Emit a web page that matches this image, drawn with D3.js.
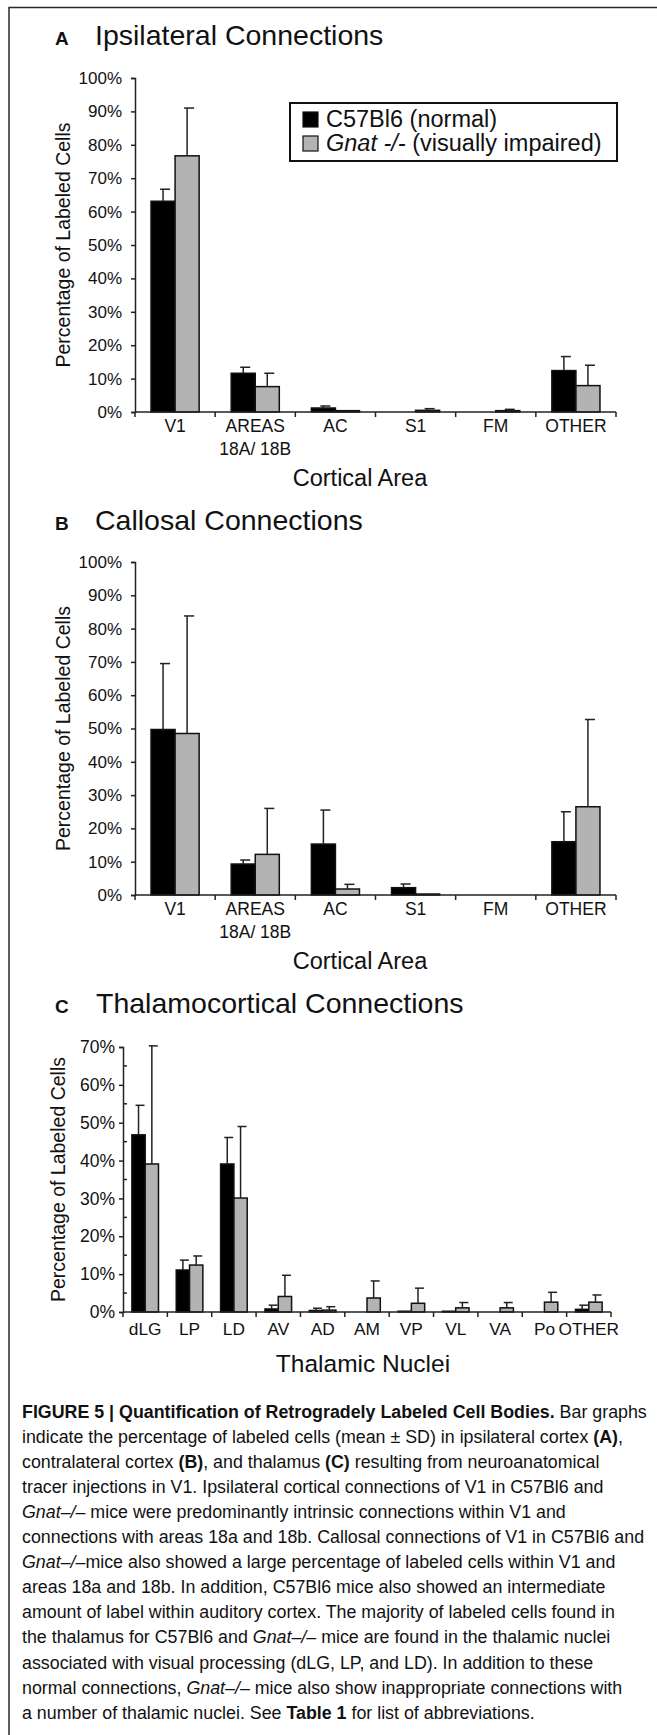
<!DOCTYPE html>
<html><head><meta charset="utf-8">
<script src="https://cdn.jsdelivr.net/npm/d3@7/dist/d3.min.js"></script>
<style>
html,body{margin:0;padding:0;background:#fff;}
svg{display:block;}
text{font-family:"Liberation Sans",Arial,sans-serif;fill:#111;}
</style></head>
<body>
<script>
// ---------- DATA ----------
const corticalAreas = ["V1", "AREAS\n18A/ 18B", "AC", "S1", "FM", "OTHER"];
const corticalTicks = [0,10,20,30,40,50,60,70,80,90,100];

const ipsiNormal   = [63.1, 11.6, 1.2, 0.0, 0.0, 12.4];
const ipsiNormalSD = [3.6, 1.8, 0.6, 0.0, 0.0, 4.2];
const ipsiGnat     = [76.7, 7.6, 0.4, 0.5, 0.4, 7.9];
const ipsiGnatSD   = [14.3, 4.0, 0.0, 0.5, 0.4, 6.1];

const callNormal   = [49.7, 9.3, 15.3, 2.2, 0.0, 16.0];
const callNormalSD = [19.8, 1.2, 10.2, 1.1, 0.0, 9.0];
const callGnat     = [48.5, 12.2, 1.8, 0.3, 0.0, 26.5];
const callGnatSD   = [35.3, 13.8, 1.4, 0.0, 0.0, 26.2];

const thalNuclei   = ["dLG","LP","LD","AV","AD","AM","VP","VL","VA","Po","OTHER"];
const thalTicks    = [0,10,20,30,40,50,60,70];
const thalMinor    = [5,15,25,35,45,55,65];
const thalNormal   = [46.8, 11.1, 39.1, 0.8, 0.4, 0.0, 0.2, 0.2, 0.0, 0.0, 0.7];
const thalNormalSD = [7.8, 2.6, 7.0, 1.0, 0.6, 0.0, 0.0, 0.0, 0.0, 0.0, 1.1];
const thalGnat     = [39.1, 12.4, 30.1, 4.1, 0.5, 3.7, 2.3, 1.1, 1.1, 2.6, 2.6];
const thalGnatSD   = [31.2, 2.4, 18.9, 5.6, 0.9, 4.5, 4.0, 1.4, 1.4, 2.6, 1.9];

const seriesNames = ["C57Bl6 (normal)", "Gnat -/- (visually impaired)"];
const seriesColors = ["#000000", "#b3b3b3"];

const captionLines = [
  [["b","FIGURE 5 | Quantification of Retrogradely Labeled Cell Bodies."],["n"," Bar graphs"]],
  [["n","indicate the percentage of labeled cells (mean \u00b1 SD) in ipsilateral cortex "],["b","(A)"],["n",","]],
  [["n","contralateral cortex "],["b","(B)"],["n",", and thalamus "],["b","(C)"],["n"," resulting from neuroanatomical"]],
  [["n","tracer injections in V1. Ipsilateral cortical connections of V1 in C57Bl6 and"]],
  [["i","Gnat\u2013/\u2013"],["n"," mice were predominantly intrinsic connections within V1 and"]],
  [["n","connections with areas 18a and 18b. Callosal connections of V1 in C57Bl6 and"]],
  [["i","Gnat\u2013/\u2013"],["n","mice also showed a large percentage of labeled cells within V1 and"]],
  [["n","areas 18a and 18b. In addition, C57Bl6 mice also showed an intermediate"]],
  [["n","amount of label within auditory cortex. The majority of labeled cells found in"]],
  [["n","the thalamus for C57Bl6 and "],["i","Gnat\u2013/\u2013"],["n"," mice are found in the thalamic nuclei"]],
  [["n","associated with visual processing (dLG, LP, and LD). In addition to these"]],
  [["n","normal connections, "],["i","Gnat\u2013/\u2013"],["n"," mice also show inappropriate connections with"]],
  [["n","a number of thalamic nuclei. See "],["b","Table 1"],["n"," for list of abbreviations."]]
];

// ---------- DRAW ----------
const W = 657, H = 1735;
const svg = d3.select("body").append("svg").attr("width", W).attr("height", H);

// frame (top + left)
svg.append("path").attr("d", `M9,${H} L9,7.5 L${W},7.5`).attr("fill","none")
   .attr("stroke","#2a2a2a").attr("stroke-width",1.5);

function panel(cfg) {
  const g = svg.append("g");
  // titles
  g.append("text").attr("x", cfg.letterX).attr("y", cfg.titleY).attr("font-size", 19)
    .attr("font-weight","bold").text(cfg.letter);
  g.append("text").attr("x", cfg.titleX).attr("y", cfg.titleY).attr("font-size", 28.5).text(cfg.title);

  const x = d3.scaleBand().domain(cfg.cats).range([cfg.x0, cfg.x1]).padding(0);
  const y = d3.scaleLinear().domain([0, cfg.ymax]).range([cfg.y0, cfg.y1]);
  const bw = x.bandwidth() * 0.3;

  // y axis
  const yAxis = d3.axisLeft(y).tickValues(cfg.ticks).tickFormat(d => d + "%").tickSize(4).tickPadding(cfg.yPad);
  const ya = g.append("g").attr("transform", `translate(${cfg.x0},0)`).call(yAxis);
  ya.select(".domain").attr("stroke","#222").attr("stroke-width",1.5);
  ya.selectAll(".tick line").attr("stroke","#222").attr("stroke-width",1.5);
  ya.selectAll(".tick text").attr("font-size", cfg.yFont).attr("font-family","Liberation Sans, Arial, sans-serif").attr("fill","#111");
  if (cfg.minor) {
    g.append("g").selectAll("line").data(cfg.minor).join("line")
      .attr("x1", cfg.x0).attr("x2", cfg.x0 + 4)
      .attr("y1", d => y(d)).attr("y2", d => y(d))
      .attr("stroke","#222").attr("stroke-width",1.5);
  }

  // series bars
  const series = [
    {vals: cfg.s1, sd: cfg.sd1, color: seriesColors[0], off: -bw},
    {vals: cfg.s2, sd: cfg.sd2, color: seriesColors[1], off: 0}
  ];
  series.forEach(s => {
    const data = cfg.cats.map((c, i) => ({c, v: s.vals[i], e: s.sd[i]}));
    const cx = d => x(d.c) + x.bandwidth() / 2 + s.off;
    g.append("g").selectAll("rect").data(data.filter(d => d.v > 0)).join("rect")
      .attr("x", cx).attr("width", bw)
      .attr("y", d => y(d.v)).attr("height", d => y(0) - y(d.v))
      .attr("fill", s.color).attr("stroke","#111").attr("stroke-width",1.5);
    const eb = g.append("g").selectAll("g").data(data.filter(d => d.e > 0)).join("g");
    eb.append("line").attr("x1", d => cx(d) + bw/2).attr("x2", d => cx(d) + bw/2)
      .attr("y1", d => y(d.v)).attr("y2", d => y(d.v + d.e))
      .attr("stroke","#222").attr("stroke-width",1.5);
    eb.append("line").attr("x1", d => cx(d) + bw/2 - 3).attr("x2", d => cx(d) + bw/2 + cfg.capR)
      .attr("y1", d => y(d.v + d.e)).attr("y2", d => y(d.v + d.e))
      .attr("stroke","#222").attr("stroke-width",1.5);
  });

  // x axis
  g.append("line").attr("x1", cfg.x0).attr("x2", cfg.x1).attr("y1", y(0)).attr("y2", y(0))
    .attr("stroke","#222").attr("stroke-width",1.5);
  const edges = cfg.cats.map(c => x(c)).concat([cfg.x1]);
  g.append("g").selectAll("line").data(edges).join("line")
    .attr("x1", d => d).attr("x2", d => d).attr("y1", y(0)).attr("y2", y(0) + 5)
    .attr("stroke","#222").attr("stroke-width",1.5);
  const lbl = g.append("g").selectAll("text").data(cfg.cats).join("text")
    .attr("text-anchor","middle").attr("font-size", cfg.xFont)
    .attr("transform", d => `translate(${x(d) + x.bandwidth()/2},${y(0) + cfg.xLblDy})`);
  lbl.each(function(d) {
    d.split("\n").forEach((ln, i) => {
      d3.select(this).append("tspan").attr("x", 0).attr("y", i * 23).text(ln);
    });
  });

  // axis titles
  g.append("text").attr("text-anchor","middle").attr("font-size", 19.5)
    .attr("transform", `translate(${cfg.yLblX},${(cfg.y0 + cfg.y1) / 2}) rotate(-90)`)
    .text("Percentage of Labeled Cells");
  g.append("text").attr("text-anchor","middle").attr("font-size", cfg.xTitleFont)
    .attr("x", cfg.xTitleX).attr("y", cfg.xTitleY).text(cfg.xTitle);
  return {g, x, y};
}

const A = panel({letter:"A", letterX:55, titleX:95, titleY:45, title:"Ipsilateral Connections",
  cats: corticalAreas, x0:135, x1:616, y0:412, y1:78, ymax:100, ticks: corticalTicks,
  yPad:9, yFont:17, xFont:17.5, xLblDy:20, capR:7,
  s1: ipsiNormal, sd1: ipsiNormalSD, s2: ipsiGnat, sd2: ipsiGnatSD,
  yLblX:70, xTitle:"Cortical Area", xTitleX:360, xTitleY:486, xTitleFont:23.5});

const B = panel({letter:"B", letterX:55, titleX:95, titleY:530, title:"Callosal Connections",
  cats: corticalAreas, x0:135, x1:616, y0:895, y1:562, ymax:100, ticks: corticalTicks,
  yPad:9, yFont:17, xFont:17.5, xLblDy:20, capR:7,
  s1: callNormal, sd1: callNormalSD, s2: callGnat, sd2: callGnatSD,
  yLblX:70, xTitle:"Cortical Area", xTitleX:360, xTitleY:969, xTitleFont:23.5});

const C = panel({letter:"C", letterX:55, titleX:96, titleY:1013, title:"Thalamocortical Connections",
  cats: thalNuclei, x0:123, x1:611, y0:1312, y1:1047, ymax:70, ticks: thalTicks, minor: thalMinor,
  yPad:4, yFont:17.5, xFont:17.3, xLblDy:23, capR:6,
  s1: thalNormal, sd1: thalNormalSD, s2: thalGnat, sd2: thalGnatSD,
  yLblX:65, xTitle:"Thalamic Nuclei", xTitleX:363, xTitleY:1372, xTitleFont:24.5});

// legend (panel A)
const lg = svg.append("g");
lg.append("rect").attr("x",290).attr("y",103).attr("width",327).attr("height",58)
  .attr("fill","#fff").attr("stroke","#111").attr("stroke-width",2);
seriesNames.forEach((nm, i) => {
  lg.append("rect").attr("x",303).attr("y",112 + i*24).attr("width",15).attr("height",15)
    .attr("fill", seriesColors[i]).attr("stroke","#111").attr("stroke-width",1.2);
  const t = lg.append("text").attr("x",326).attr("y",127 + i*24).attr("font-size",23.5);
  if (i === 1) {
    t.append("tspan").attr("font-style","italic").text("Gnat -/-");
    t.append("tspan").text(" (visually impaired)");
  } else t.text(nm);
});

// caption
const cap = svg.append("g");
const capX = 22, capY0 = 1418, capDy = 25.05;
const capTexts = captionLines.map((parts, i) => {
  const t = cap.append("text").attr("x", 0).attr("y", 0).attr("font-size", 17.5);
  parts.forEach(([k, s]) => {
    const sp = t.append("tspan").text(s);
    if (k === "b") sp.attr("font-weight","bold");
    if (k === "i") sp.attr("font-style","italic");
  });
  return t;
});
// uniform horizontal compression fitted to the widest line
const widths = capTexts.map(t => t.node().getComputedTextLength());
const sx = (647 - capX) / widths[0];
capTexts.forEach((t, i) => t.attr("transform", `translate(${capX},${capY0 + i*capDy}) scale(${sx},1)`));
</script>
</body></html>
